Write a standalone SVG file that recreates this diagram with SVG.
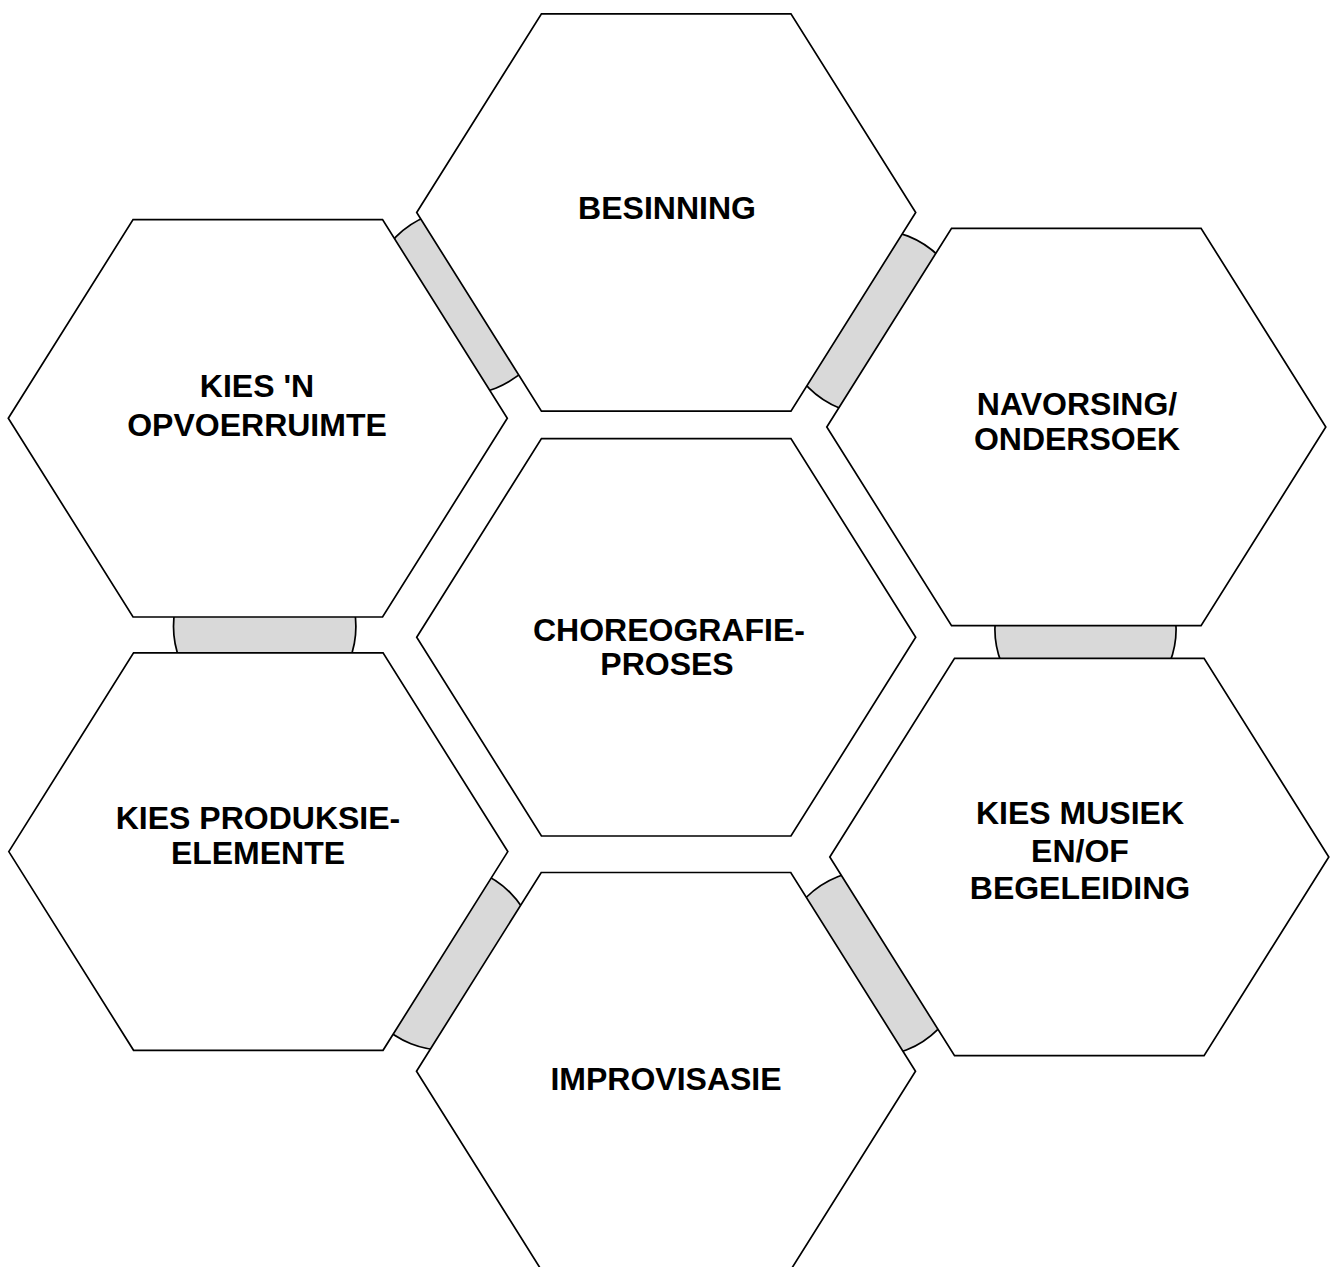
<svg xmlns="http://www.w3.org/2000/svg" width="1336" height="1267" viewBox="0 0 1336 1267">
<style>
.hex{fill:#ffffff;stroke:#000000;stroke-width:1.7;stroke-linejoin:miter}
.con{fill:#d9d9d9;stroke:#000000;stroke-width:1.7}
.lbl{font-family:"Liberation Sans",Arial,sans-serif;font-weight:bold;font-size:32px;fill:#000000;text-anchor:middle}
</style>
<rect width="1336" height="1267" fill="#ffffff"/>
<g id="connectors">
<circle class="con" cx="461.6" cy="302.1" r="92.6"/>
<circle class="con" cx="874" cy="322.2" r="92.6"/>
<circle class="con" cx="264.7" cy="626.6" r="91.2"/>
<circle class="con" cx="1085.5" cy="629.3" r="90.6"/>
<circle class="con" cx="444.9" cy="957.9" r="92.3"/>
<circle class="con" cx="872" cy="963.4" r="93.2"/>
</g>
<g id="node-besinning">
<polygon class="hex" points="416.7,212.5 541.45,13.8 790.95,13.8 915.7,212.5 790.95,411.2 541.45,411.2"/>
<text class="lbl" x="667" y="219">BESINNING</text>
</g>
<g id="node-opvoerruimte">
<polygon class="hex" points="8.3,418.3 133.05,219.6 382.55,219.6 507.3,418.3 382.55,617 133.05,617"/>
<text class="lbl" x="257" y="397">KIES 'N</text>
<text class="lbl" x="257" y="436">OPVOERRUIMTE</text>
</g>
<g id="node-navorsing">
<polygon class="hex" points="826.8,427 951.55,228.3 1201.05,228.3 1325.8,427 1201.05,625.7 951.55,625.7"/>
<text class="lbl" x="1077" y="415">NAVORSING/</text>
<text class="lbl" x="1077" y="450">ONDERSOEK</text>
</g>
<g id="node-choreografie">
<polygon class="hex" points="416.7,637.3 541.45,438.6 790.95,438.6 915.7,637.3 790.95,836 541.45,836"/>
<text class="lbl" x="669" y="641">CHOREOGRAFIE-</text>
<text class="lbl" x="667" y="675">PROSES</text>
</g>
<g id="node-produksie">
<polygon class="hex" points="8.8,851.6 133.55,652.9 383.05,652.9 507.8,851.6 383.05,1050.3 133.55,1050.3"/>
<text class="lbl" x="258" y="829">KIES PRODUKSIE-</text>
<text class="lbl" x="258" y="864">ELEMENTE</text>
</g>
<g id="node-musiek">
<polygon class="hex" points="829.8,857 954.55,658.3 1204.05,658.3 1328.8,857 1204.05,1055.7 954.55,1055.7"/>
<text class="lbl" x="1080" y="824">KIES MUSIEK</text>
<text class="lbl" x="1080" y="862">EN/OF</text>
<text class="lbl" x="1080" y="899">BEGELEIDING</text>
</g>
<g id="node-improvisasie">
<polygon class="hex" points="416.5,1071.2 541.25,872.5 790.75,872.5 915.5,1071.2 790.75,1269.9 541.25,1269.9"/>
<text class="lbl" x="666" y="1090">IMPROVISASIE</text>
</g>
</svg>
